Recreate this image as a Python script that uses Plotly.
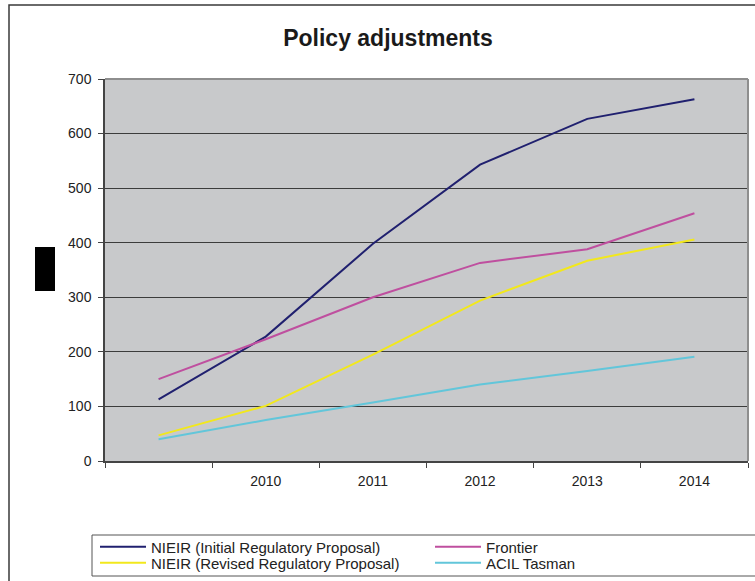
import plotly.graph_objects as go

# Forecast years (first category carries no label)
categories = [" ", "2010", "2011", "2012", "2013", "2014"]

nieir_initial = [113, 228, 398, 543, 627, 663]
frontier = [150, 223, 300, 363, 388, 454]
nieir_revised = [47, 101, 195, 294, 367, 406]
acil_tasman = [40, 75, 107, 140, 165, 191]

series_names = [
    "NIEIR (Initial Regulatory Proposal)",
    "Frontier",
    "NIEIR (Revised Regulatory Proposal)",
    "ACIL Tasman",
]
series_values = [nieir_initial, frontier, nieir_revised, acil_tasman]
series_colors = ["#20206f", "#bf4f9f", "#f2e81c", "#62c6da"]

W, H = 755, 581
L, R, T, B = 105, 7, 79, 120
pw, ph = W - L - R, H - T - B


def px(x):
    return (x - L) / pw


def py(y):
    return (H - B - y) / ph


font = "Liberation Sans, Arial, sans-serif"

# each legend entry sits in its own slot of a 2 x 2 grid
legend_ids = ["legend", "legend2", "legend3", "legend4"]
legend_slots = [(95, 547), (430, 547), (95, 563), (430, 563)]

fig = go.Figure()
for name, vals, color, lid in zip(series_names, series_values,
                                  series_colors, legend_ids):
    fig.add_trace(go.Scatter(
        x=categories, y=vals, name=name, mode="lines",
        line=dict(color=color, width=2), legend=lid,
    ))

legend_layout = {}
for lid, (lx, ly) in zip(legend_ids, legend_slots):
    legend_layout[lid] = dict(
        orientation="h", x=px(lx), y=py(ly), xanchor="left",
        yanchor="middle", xref="paper", yref="paper",
        bgcolor="rgba(0,0,0,0)", borderwidth=0, itemwidth=46,
        font=dict(family=font, size=15, color="#222222"),
    )

fig.update_layout(
    width=W, height=H,
    margin=dict(l=L, r=R, t=T, b=B, autoexpand=False),
    paper_bgcolor="white",
    plot_bgcolor="#c8c9cb",
    font=dict(family=font, size=14, color="#222222"),
    title=dict(text="<b>Policy adjustments</b>", x=px(388), xref="paper",
               xanchor="center", y=1 - 38 / H, yanchor="middle",
               font=dict(size=23, color="#1a1a1a")),
    showlegend=True,
    xaxis=dict(
        type="category", categoryorder="array", categoryarray=categories,
        range=[-0.5, 5.5], tickson="boundaries",
        ticks="outside", ticklen=5, tickcolor="#444444", tickwidth=1,
        showline=True, linecolor="#444444", linewidth=1.5,
        showgrid=False, zeroline=False, ticklabelstandoff=6,
        tickfont=dict(size=14, color="#222222"),
    ),
    yaxis=dict(
        range=[0, 700], dtick=100, tick0=0,
        ticks="outside", ticklen=5, tickcolor="#444444", tickwidth=1,
        showline=True, linecolor="#444444", linewidth=1.5,
        showgrid=True, gridcolor="#3c3c3c", gridwidth=1,
        zeroline=False, ticklabelstandoff=4,
        tickfont=dict(size=14, color="#222222"),
    ),
    shapes=[
        # plot area frame on the top and right sides
        dict(type="line", xref="paper", yref="paper", x0=0, x1=1, y0=1, y1=1,
             line=dict(color="#8e8e8e", width=2)),
        dict(type="line", xref="paper", yref="paper", x0=1, x1=1, y0=0, y1=1,
             line=dict(color="#8e8e8e", width=2)),
        # chart border
        dict(type="rect", xref="paper", yref="paper",
             x0=px(9), x1=px(770), y0=py(600), y1=py(5),
             line=dict(color="#3a3a3a", width=1.5), fillcolor="rgba(0,0,0,0)",
             layer="below"),
        # legend frame
        dict(type="rect", xref="paper", yref="paper",
             x0=px(92), x1=px(770), y0=py(576), y1=py(535),
             line=dict(color="#555555", width=1), fillcolor="white",
             layer="below"),
        # redacted axis title block
        dict(type="rect", xref="paper", yref="paper",
             x0=px(35), x1=px(55), y0=py(291), y1=py(247),
             line=dict(width=0), fillcolor="black"),
    ],
    **legend_layout,
)

fig.write_html("out.html")
